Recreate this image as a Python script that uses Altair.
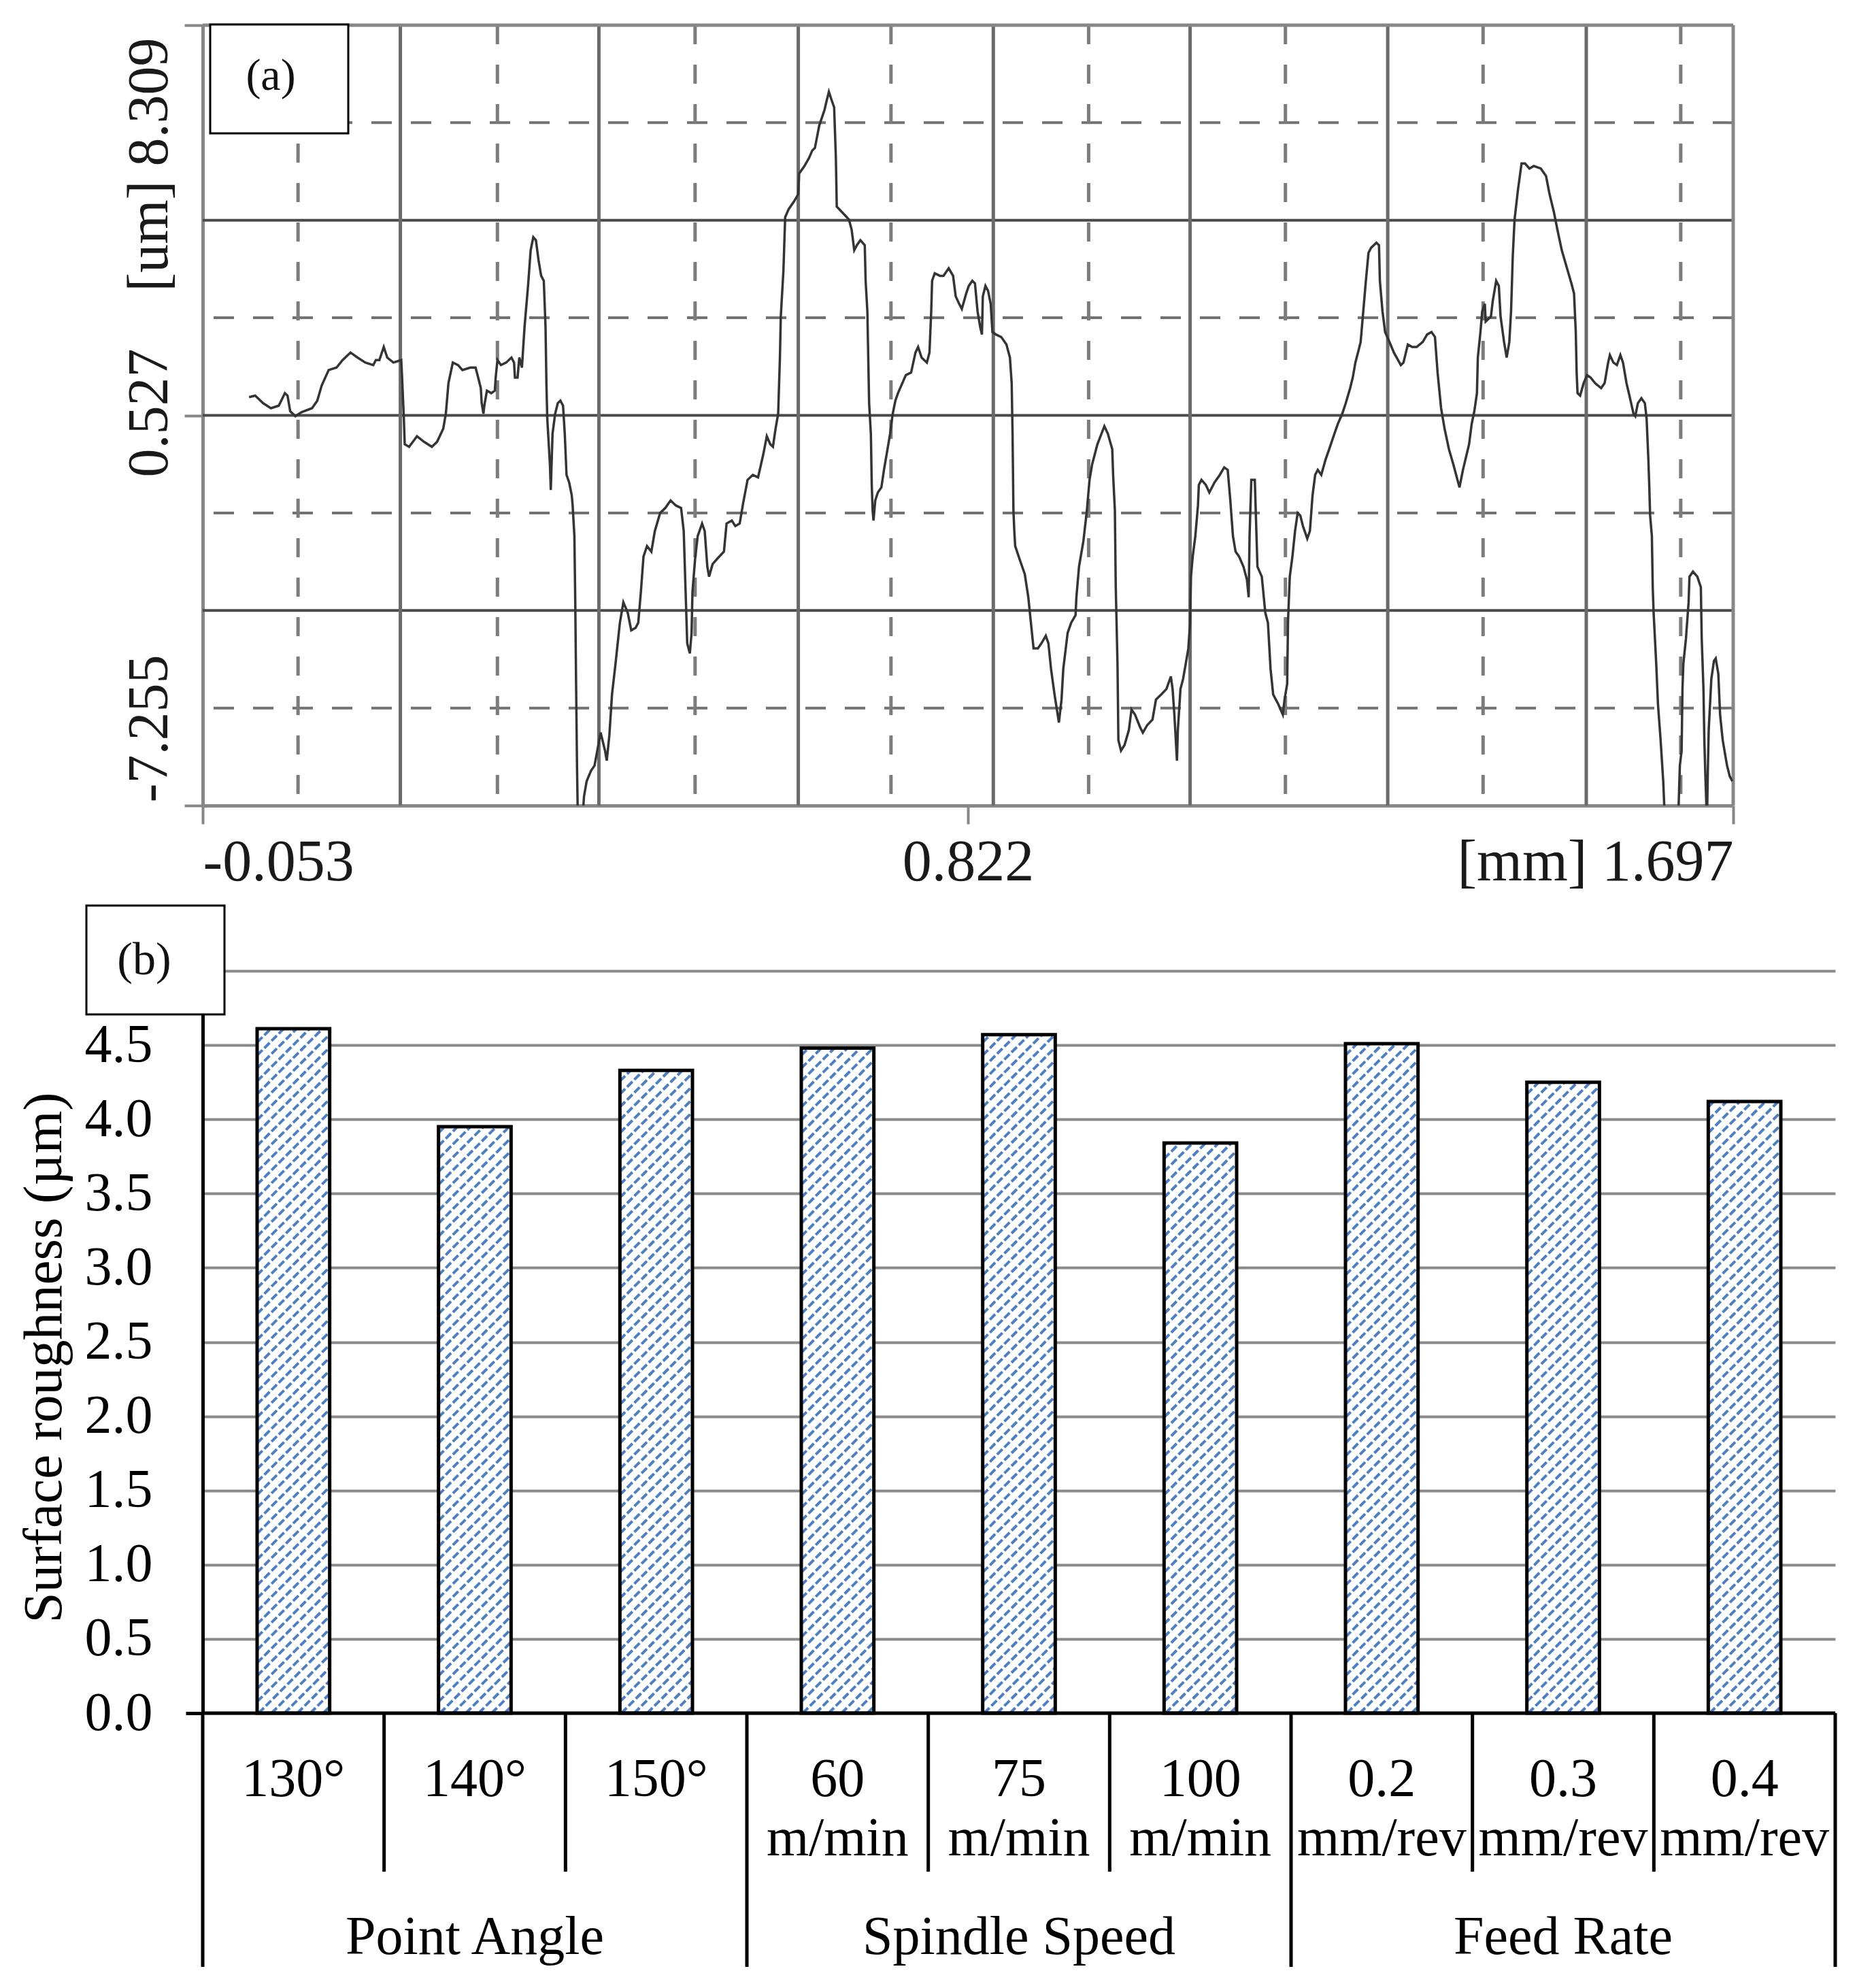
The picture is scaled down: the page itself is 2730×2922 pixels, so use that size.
import altair as alt
import pandas as pd

SERIF = "Liberation Serif"

# ---------------- (a) surface profile ----------------
profile_x = [0.000, 0.007, 0.016, 0.025, 0.034, 0.041, 0.044, 0.047, 0.053, 0.060, 0.072, 0.078, 0.083, 0.091,
             0.100, 0.107, 0.116, 0.124, 0.133, 0.142, 0.145, 0.149, 0.154, 0.158, 0.165, 0.174, 0.175, 0.177,
             0.178, 0.183, 0.192, 0.200, 0.209, 0.215, 0.222, 0.225, 0.228, 0.233, 0.239, 0.244, 0.253, 0.259,
             0.262, 0.265, 0.266, 0.268, 0.269, 0.272, 0.277, 0.281, 0.282, 0.284, 0.288, 0.294, 0.300, 0.303,
             0.304, 0.307, 0.309, 0.312, 0.315, 0.319, 0.322, 0.325, 0.328, 0.331, 0.334, 0.337, 0.339, 0.340,
             0.341, 0.342, 0.344, 0.345, 0.347, 0.350, 0.353, 0.356, 0.359, 0.361, 0.363, 0.366, 0.369, 0.370,
             0.372, 0.373, 0.374, 0.375, 0.376, 0.381, 0.383, 0.386, 0.391, 0.395,
             0.402, 0.407, 0.409, 0.412, 0.415, 0.419, 0.424, 0.428, 0.433, 0.437, 0.442, 0.445, 0.448, 0.451,
             0.455, 0.460, 0.464, 0.470, 0.476, 0.482, 0.488, 0.494, 0.497, 0.499, 0.501, 0.504, 0.506, 0.507,
             0.510, 0.513, 0.518, 0.521, 0.524, 0.526, 0.530, 0.535, 0.543, 0.546, 0.552, 0.556, 0.561, 0.565,
             0.570, 0.576, 0.582, 0.588, 0.592, 0.596, 0.599, 0.602, 0.605, 0.607, 0.608, 0.611, 0.613, 0.617,
             0.623, 0.628, 0.629, 0.635, 0.640, 0.644, 0.647, 0.652, 0.658, 0.660, 0.663, 0.666, 0.669, 0.671,
             0.672, 0.678, 0.686, 0.689, 0.692, 0.695, 0.699, 0.704, 0.705, 0.707, 0.708, 0.709, 0.711, 0.712,
             0.713, 0.714, 0.716, 0.719, 0.723, 0.726, 0.730, 0.733, 0.736, 0.739, 0.742, 0.747, 0.751, 0.757,
             0.762, 0.765, 0.769, 0.775, 0.778, 0.780, 0.781, 0.784, 0.790, 0.794, 0.800, 0.805, 0.808, 0.812,
             0.815, 0.820, 0.823, 0.827, 0.830, 0.833, 0.836, 0.838, 0.839, 0.842, 0.845, 0.848,
             0.850, 0.854, 0.860, 0.866, 0.870, 0.872, 0.873, 0.874, 0.875, 0.876, 0.881, 0.887, 0.891, 0.894,
             0.897, 0.902, 0.906, 0.911, 0.914, 0.917, 0.921, 0.926, 0.929, 0.931, 0.936, 0.940, 0.945, 0.946,
             0.949, 0.954, 0.958, 0.961, 0.964, 0.970, 0.978, 0.982, 0.987, 0.988, 0.990, 0.991, 0.993, 0.994,
             0.997, 1.001, 1.006, 1.009, 1.013, 1.019, 1.022, 1.027, 1.033, 1.037, 1.043, 1.049, 1.054, 1.056,
             1.058, 1.061, 1.062, 1.065, 1.068, 1.071, 1.074, 1.076, 1.077, 1.079, 1.082, 1.085, 1.086, 1.089,
             1.094, 1.098, 1.104, 1.110, 1.115, 1.119, 1.122, 1.125, 1.128, 1.132, 1.137, 1.141, 1.143, 1.144,
             1.146, 1.150, 1.153, 1.158, 1.162, 1.165, 1.168, 1.171, 1.174, 1.177, 1.182, 1.184, 1.187, 1.188,
             1.190, 1.193, 1.196, 1.199, 1.202, 1.205, 1.210, 1.213, 1.216, 1.219, 1.222, 1.226, 1.231, 1.235,
             1.241, 1.245, 1.250, 1.254, 1.259, 1.262, 1.265, 1.268, 1.271, 1.274, 1.277, 1.280, 1.283, 1.286,
             1.289, 1.292, 1.293, 1.296,
             1.299, 1.304, 1.309, 1.317, 1.320, 1.325, 1.330, 1.335, 1.342, 1.347, 1.352, 1.356, 1.359, 1.363,
             1.367, 1.372, 1.377, 1.384, 1.388, 1.395, 1.398, 1.401, 1.404, 1.405, 1.408, 1.410, 1.413, 1.414,
             1.420, 1.422, 1.426, 1.429, 1.431, 1.435, 1.438, 1.441, 1.443, 1.445, 1.447, 1.451, 1.455, 1.459,
             1.464, 1.469, 1.477, 1.483, 1.487, 1.492, 1.496, 1.501, 1.506, 1.512, 1.515, 1.517, 1.518, 1.519,
             1.522, 1.526, 1.530, 1.534, 1.539, 1.546, 1.550, 1.554, 1.556, 1.560, 1.564, 1.568, 1.571, 1.575,
             1.579, 1.583, 1.585, 1.588, 1.592, 1.596, 1.598, 1.600, 1.601, 1.602, 1.604, 1.605, 1.606, 1.609,
             1.611, 1.614, 1.617, 1.619, 1.634, 1.636, 1.638, 1.639, 1.640, 1.643, 1.646, 1.647, 1.651, 1.656,
             1.660, 1.661, 1.663, 1.664, 1.665, 1.667, 1.668, 1.669, 1.672, 1.675, 1.677, 1.680, 1.682, 1.685,
             1.688, 1.690, 1.693, 1.696]
profile_y = [0.89, 0.92, 0.77, 0.67, 0.72, 0.97, 0.92, 0.61, 0.51, 0.59, 0.67, 0.82, 1.12, 1.43,
             1.48, 1.63, 1.78, 1.68, 1.58, 1.53, 1.63, 1.63, 1.89, 1.68, 1.58, 1.63, 1.28, 0.46,
             -0.05, -0.10, 0.11, 0.00, -0.10, 0.00, 0.26, 0.56, 1.17, 1.58, 1.53, 1.43, 1.48, 1.48,
             1.28, 1.07, 0.77, 0.56, 0.72, 1.02, 0.97, 1.02, 1.28, 1.63, 1.53, 1.58, 1.68, 1.58,
             1.28, 1.28, 1.68, 1.48, 2.29, 3.11, 3.82, 4.08, 4.02, 3.62, 3.31, 3.21, 2.29, 1.17,
             0.46, 0.16, -0.45, -0.96, 0.16, 0.56, 0.77, 0.82, 0.72, 0.16, -0.66, -0.81, -1.07, -1.27,
             -1.88, -3.20, -4.93, -6.46, -7.60, -7.60, -7.07, -6.77, -6.56, -6.46,
             -5.80, -6.16, -6.36, -5.85, -5.04, -4.43, -3.61, -3.20, -3.41, -3.76, -3.71, -3.61, -3.00, -2.29,
             -2.08, -2.19, -1.78, -1.42, -1.32, -1.17, -1.27, -1.32, -1.78, -2.90, -4.02, -4.22, -3.81, -3.00,
             -2.34, -1.88, -1.63, -1.78, -2.49, -2.69, -2.44, -2.34, -2.19, -1.63, -1.57, -1.68, -1.63, -1.22,
             -0.76, -0.66, -0.71, -0.25, 0.11, -0.05, -0.10, 0.26, 0.56, 1.68, 2.50, 3.41, 4.48, 4.64,
             4.79, 4.94, 5.35, 5.50, 5.65, 5.81, 5.86, 6.31, 6.62, 6.77, 6.98, 6.82, 6.67, 5.65,
             4.69, 4.58, 4.43, 4.23, 3.82, 3.92, 4.02, 3.92, 3.21, 2.60, 1.68, 0.77, 0.16, -0.86,
             -1.37, -1.57, -1.17, -1.01, -0.91, -0.56, -0.15, 0.16, 0.56, 0.82, 0.97, 1.17, 1.33, 1.38,
             1.78, 1.89, 1.68, 1.58, 1.78, 2.60, 3.21, 3.36, 3.31, 3.31, 3.46, 3.31, 2.90, 2.75,
             2.65, 2.96, 3.11, 3.21, 3.16, 2.60, 2.29, 2.14, 2.90, 3.11, 3.01, 2.75,
             2.19, 2.14, 2.09, 1.94, 1.68, 1.17, 0.16, -1.37, -1.78, -2.08, -2.34, -2.64, -3.10, -3.61,
             -4.12, -4.12, -4.02, -3.87, -4.02, -4.53, -5.04, -5.60, -5.14, -4.53, -3.81, -3.61, -3.46, -3.10,
             -2.49, -1.98, -1.37, -0.76, -0.45, -0.05, 0.31, 0.16, -0.15, -0.66, -1.37, -2.90, -4.43, -5.95,
             -6.16, -6.05, -5.75, -5.34, -5.44, -5.70, -5.80, -5.65, -5.54, -5.14, -5.04, -4.93, -4.68, -4.93,
             -5.44, -6.36, -5.75, -4.93, -4.73, -4.43, -4.12, -3.61, -2.69, -2.29, -1.88, -1.27, -0.86, -0.76,
             -0.86, -1.01, -0.81, -0.66, -0.51, -0.56, -1.17, -1.88, -2.19, -2.29, -2.49, -2.75, -3.10, -1.88,
             -0.76, -0.76, -2.49, -2.69, -3.41, -3.61, -4.53, -5.04, -5.14, -5.24, -5.44, -5.14, -4.83, -3.56,
             -2.69, -2.29, -1.78, -1.42, -1.47, -1.68, -1.93, -1.78, -1.07, -0.66, -0.56, -0.66, -0.35, -0.15,
             0.16, 0.36, 0.56, 0.77, 1.07, 1.28, 1.58, 1.78, 1.99, 2.60, 3.21, 3.77, 3.87, 3.92,
             3.97, 3.92, 3.21, 2.60,
             2.19, 1.99, 1.78, 1.53, 1.58, 1.94, 1.89, 1.89, 1.99, 2.14, 2.19, 2.09, 1.38, 0.67,
             0.26, -0.15, -0.45, -0.91, -0.56, -0.05, 0.36, 0.61, 0.97, 1.68, 2.19, 2.60, 2.75, 2.40,
             2.50, 2.80, 3.21, 3.11, 2.50, 1.99, 1.68, 1.99, 2.60, 3.72, 4.43, 5.04, 5.55, 5.55,
             5.45, 5.50, 5.45, 5.30, 4.94, 4.58, 4.23, 3.82, 3.52, 3.16, 2.96, 2.19, 1.38, 0.97,
             0.92, 1.17, 1.33, 1.28, 1.17, 1.07, 1.17, 1.58, 1.73, 1.58, 1.53, 1.73, 1.58, 1.17,
             0.87, 0.56, 0.51, 0.77, 0.87, 0.77, 0.46, -0.35, -0.86, -1.47, -1.88, -2.90, -3.41, -4.43,
             -5.24, -5.95, -6.77, -7.60, -7.60, -6.46, -6.16, -4.93, -4.43, -3.92, -3.20, -2.69, -2.59, -2.69,
             -2.90, -3.92, -4.93, -5.95, -6.56, -7.60, -6.56, -5.75, -4.73, -4.37, -4.32, -4.63, -5.44, -5.95,
             -6.26, -6.46, -6.67, -6.77]

x_ticks = [-0.053, 0.822, 1.697]
x_tick_labels = ["-0.053", "0.822", "[mm] 1.697"]
y_ticks = [-7.255, 0.527, 8.309]
y_tick_labels = ["-7.255", "0.527", "[um] 8.309"]
grid_x_solid = [0.173, 0.400, 0.628, 0.851, 1.076, 1.302, 1.529]
grid_x_dashed = [0.056, 0.284, 0.510, 0.734, 0.960, 1.185, 1.411, 1.637]
grid_y_solid = [-3.364, 0.527, 4.418]
grid_y_dashed = [-5.310, -1.419, 2.473, 6.364]

# ---------------- (b) surface roughness bars ----------------
levels_line1 = ["130°", "140°", "150°", "60", "75", "100", "0.2", "0.3", "0.4"]
levels_line2 = ["", "", "", "m/min", "m/min", "m/min", "mm/rev", "mm/rev", "mm/rev"]
factors = ["Point Angle", "Spindle Speed", "Feed Rate"]
roughness = [4.61, 3.95, 4.33, 4.48, 4.57, 3.84, 4.51, 4.25, 4.12]
y_ticks_b = [0.0, 0.5, 1.0, 1.5, 2.0, 2.5, 3.0, 3.5, 4.0, 4.5, 5.0]


def label_expr(vals, labs):
    parts = [f"abs(datum.value - ({v})) < 1e-6 ? '{l}'" for v, l in zip(vals, labs)]
    return " : ".join(parts) + " : ''"


# ======================= TOP PANEL =======================
TW, TH = 2250, 1147
AX_GRAY = "#878787"
xs = alt.Scale(domain=[x_ticks[0], x_ticks[-1]], nice=False, zero=False)
ys = alt.Scale(domain=[y_ticks[0], y_ticks[-1]], nice=False, zero=False)
TOP_TEST = f"datum.value > {y_ticks[-1] - 0.01}"
BOT_TEST = f"datum.value < {y_ticks[0] + 0.01}"

x_axis = alt.Axis(values=x_ticks, labelExpr=label_expr(x_ticks, x_tick_labels), labelFlush=True,
                  labelOverlap=False, labelLimit=3000, grid=False, domainColor=AX_GRAY, domainWidth=5,
                  tickColor=AX_GRAY, tickWidth=4, tickSize=27, labelFont=SERIF, labelFontSize=86,
                  labelColor="#1a1a1a", labelPadding=14)
y_axis = alt.Axis(values=y_ticks, labelExpr=label_expr(y_ticks, y_tick_labels), labelAngle=270,
                  labelAlign={"condition": [{"test": TOP_TEST, "value": "right"},
                                            {"test": BOT_TEST, "value": "left"}],
                              "value": "center"},
                  labelOffset={"condition": [{"test": TOP_TEST, "value": 18},
                                             {"test": BOT_TEST, "value": -5}],
                               "value": -4},
                  labelBaseline="alphabetic", labelOverlap=False, labelLimit=3000, grid=False,
                  domainColor=AX_GRAY, domainWidth=5, tickColor=AX_GRAY, tickWidth=4, tickSize=27,
                  labelFont=SERIF, labelFontSize=84, labelColor="#1a1a1a", labelPadding=26)


def XT(field):
    return alt.X(field, scale=xs, axis=x_axis, title=None)


def YT(field):
    return alt.Y(field, scale=ys, axis=y_axis, title=None)


df_prof = pd.DataFrame({"x": profile_x, "y": profile_y})
df_prof["i"] = range(len(df_prof))

hdash = alt.Chart(pd.DataFrame({"y": grid_y_dashed})).mark_rule(
    color="#727272", strokeWidth=4, strokeDash=[30, 28]).encode(y=YT("y:Q"))
hsolid = alt.Chart(pd.DataFrame({"y": grid_y_solid})).mark_rule(
    color="#4a4a4a", strokeWidth=4).encode(y=YT("y:Q"))
vdash = alt.Chart(pd.DataFrame({"x": grid_x_dashed})).mark_rule(
    color="#7c7c7c", strokeWidth=5, strokeDash=[28, 30]).encode(x=XT("x:Q"))
vsolid = alt.Chart(pd.DataFrame({"x": grid_x_solid})).mark_rule(
    color="#6a6a6a", strokeWidth=5).encode(x=XT("x:Q"))
top_border = alt.Chart(pd.DataFrame({"y": [y_ticks[-1]]})).mark_rule(
    color=AX_GRAY, strokeWidth=5).encode(y=YT("y:Q"))
right_border = alt.Chart(pd.DataFrame({"x": [x_ticks[-1]]})).mark_rule(
    color=AX_GRAY, strokeWidth=5).encode(x=XT("x:Q"))
profile = alt.Chart(df_prof).mark_line(color="#343434", strokeWidth=3.5, clip=True).encode(
    x=XT("x:Q"), y=YT("y:Q"), order="i:Q")
box_a = alt.Chart(pd.DataFrame({"t": ["(a)"]})).mark_rect(
    fill="white", stroke="black", strokeWidth=3).encode(
    x=alt.value(11), x2=alt.value(214), y=alt.value(-1), y2=alt.value(159))
text_a = alt.Chart(pd.DataFrame({"t": ["(a)"]})).mark_text(
    font=SERIF, fontSize=66, color="#111111", align="center", baseline="middle").encode(
    x=alt.value(100), y=alt.value(75), text="t:N")

top = alt.layer(hdash, hsolid, vdash, vsolid, top_border, right_border, profile, box_a, text_a).properties(
    width=TW, height=TH)

# ======================= BOTTOM PANEL =======================
BW, BH = 2400, 1091
n = len(roughness)
bx = alt.Scale(domain=[0, n], nice=False, zero=False)
by = alt.Scale(domain=[0, 5], nice=False, zero=True)
BAR_LO, BAR_HI = 0.3, 0.7

df_bars = pd.DataFrame({"i": range(n), "v": roughness, "l1": levels_line1, "l2": levels_line2})

y_axis_b = alt.Axis(values=y_ticks_b, labelExpr="datum.value > 4.9 ? '' : format(datum.value, '.1f')",
                    grid=True, gridColor="#8a8a8a", gridWidth=4, domainColor="black", domainWidth=5,
                    ticks=True, tickSize=25, tickWidth=5,
                    tickColor={"condition": {"test": "datum.value < 0.01", "value": "black"},
                               "value": "transparent"},
                    labelFont=SERIF, labelFontSize=80, labelColor="black", labelPadding=49,
                    labelOverlap=False, labelLimit=3000, titleFont=SERIF,
                    titleFontSize=81, titleFontWeight="normal", titleColor="black", titlePadding=18,
                    titleY=568)
Y_TITLE = "Surface roughness (µm)"


def XB(field):
    return alt.X(field, scale=bx, axis=None)


def YB(field):
    return alt.Y(field, scale=by, axis=y_axis_b, title=Y_TITLE)


bars = alt.Chart(df_bars).transform_calculate(
    x0=f"datum.i + {BAR_LO}", x1=f"datum.i + {BAR_HI}").mark_rect(fill="white").encode(
    x=XB("x0:Q"), x2="x1:Q", y=YB("v:Q"), y2=alt.datum(0))

# diagonal dotted hatch inside each bar (derived from bar values)
band_px = BW / n
unit_px = BH / 5.0
bw_px = (BAR_HI - BAR_LO) * band_px
step = 19.0
rows = []
for i, v in enumerate(roughness):
    hp = v * unit_px
    c = -bw_px + step / 2
    while c < hp:
        x_s = max(0.0, -c)
        x_e = min(bw_px, hp - c)
        if x_e > x_s:
            rows.append({"x": i + BAR_LO + x_s / band_px, "x2": i + BAR_LO + x_e / band_px,
                         "y": (x_s + c) / unit_px, "y2": (x_e + c) / unit_px})
        c += step
df_hatch = pd.DataFrame(rows)
hatch = alt.Chart(df_hatch).mark_rule(color="#4d7fc1", strokeWidth=4, strokeDash=[11, 4]).encode(
    x=XB("x:Q"), x2="x2:Q", y=YB("y:Q"), y2="y2:Q")

outline = alt.Chart(df_bars).transform_calculate(
    x0=f"datum.i + {BAR_LO}", x1=f"datum.i + {BAR_HI}").mark_rect(
    fill="white", fillOpacity=0, stroke="black", strokeWidth=5).encode(
    x=XB("x0:Q"), x2="x1:Q", y=YB("v:Q"), y2=alt.datum(0))

baseline = alt.Chart(pd.DataFrame({"y": [0]})).mark_rule(color="black", strokeWidth=5).encode(
    y=YB("y:Q"))

group_size = n // len(factors)
sep_long = [k * group_size for k in range(len(factors) + 1)]
sep_short = [k for k in range(n + 1) if k not in sep_long]
seps_short = alt.Chart(pd.DataFrame({"x": sep_short})).mark_rule(color="black", strokeWidth=5).encode(
    x=XB("x:Q"), y=alt.value(BH), y2=alt.value(BH + 233))
seps_long = alt.Chart(pd.DataFrame({"x": sep_long})).mark_rule(color="black", strokeWidth=5).encode(
    x=XB("x:Q"), y=alt.value(BH), y2=alt.value(BH + 373))

lab1 = alt.Chart(df_bars).transform_calculate(xc="datum.i + 0.5").mark_text(
    font=SERIF, fontSize=80, color="black", align="center", baseline="alphabetic").encode(
    x=XB("xc:Q"), y=alt.value(BH + 122), text="l1:N")
lab2 = alt.Chart(df_bars).transform_calculate(xc="datum.i + 0.5").mark_text(
    font=SERIF, fontSize=80, color="black", align="center", baseline="alphabetic").encode(
    x=XB("xc:Q"), y=alt.value(BH + 209), text="l2:N")
df_groups = pd.DataFrame({"g": factors, "k": range(len(factors))})
lab3 = alt.Chart(df_groups).transform_calculate(xc=f"datum.k * {group_size} + {group_size / 2}").mark_text(
    font=SERIF, fontSize=80, color="black", align="center", baseline="alphabetic").encode(
    x=XB("xc:Q"), y=alt.value(BH + 354), text="g:N")

box_b = alt.Chart(pd.DataFrame({"t": ["(b)"]})).mark_rect(
    fill="white", stroke="black", strokeWidth=3).encode(
    x=alt.value(-171), x2=alt.value(32), y=alt.value(-96), y2=alt.value(64))
text_b = alt.Chart(pd.DataFrame({"t": ["(b)"]})).mark_text(
    font=SERIF, fontSize=68, color="#111111", align="center", baseline="middle").encode(
    x=alt.value(-86), y=alt.value(-15), text="t:N")

bottom = alt.layer(bars, hatch, outline, baseline, seps_short, seps_long, lab1, lab2, lab3,
                   box_b, text_b).properties(width=BW, height=BH)

chart = alt.vconcat(top, bottom, spacing=243, bounds="flush").properties(
    padding={"left": 16, "top": 26, "right": 5, "bottom": 5}
).configure_view(strokeWidth=0)

chart.save("out.html", embed_options={"renderer": "svg", "actions": False})
